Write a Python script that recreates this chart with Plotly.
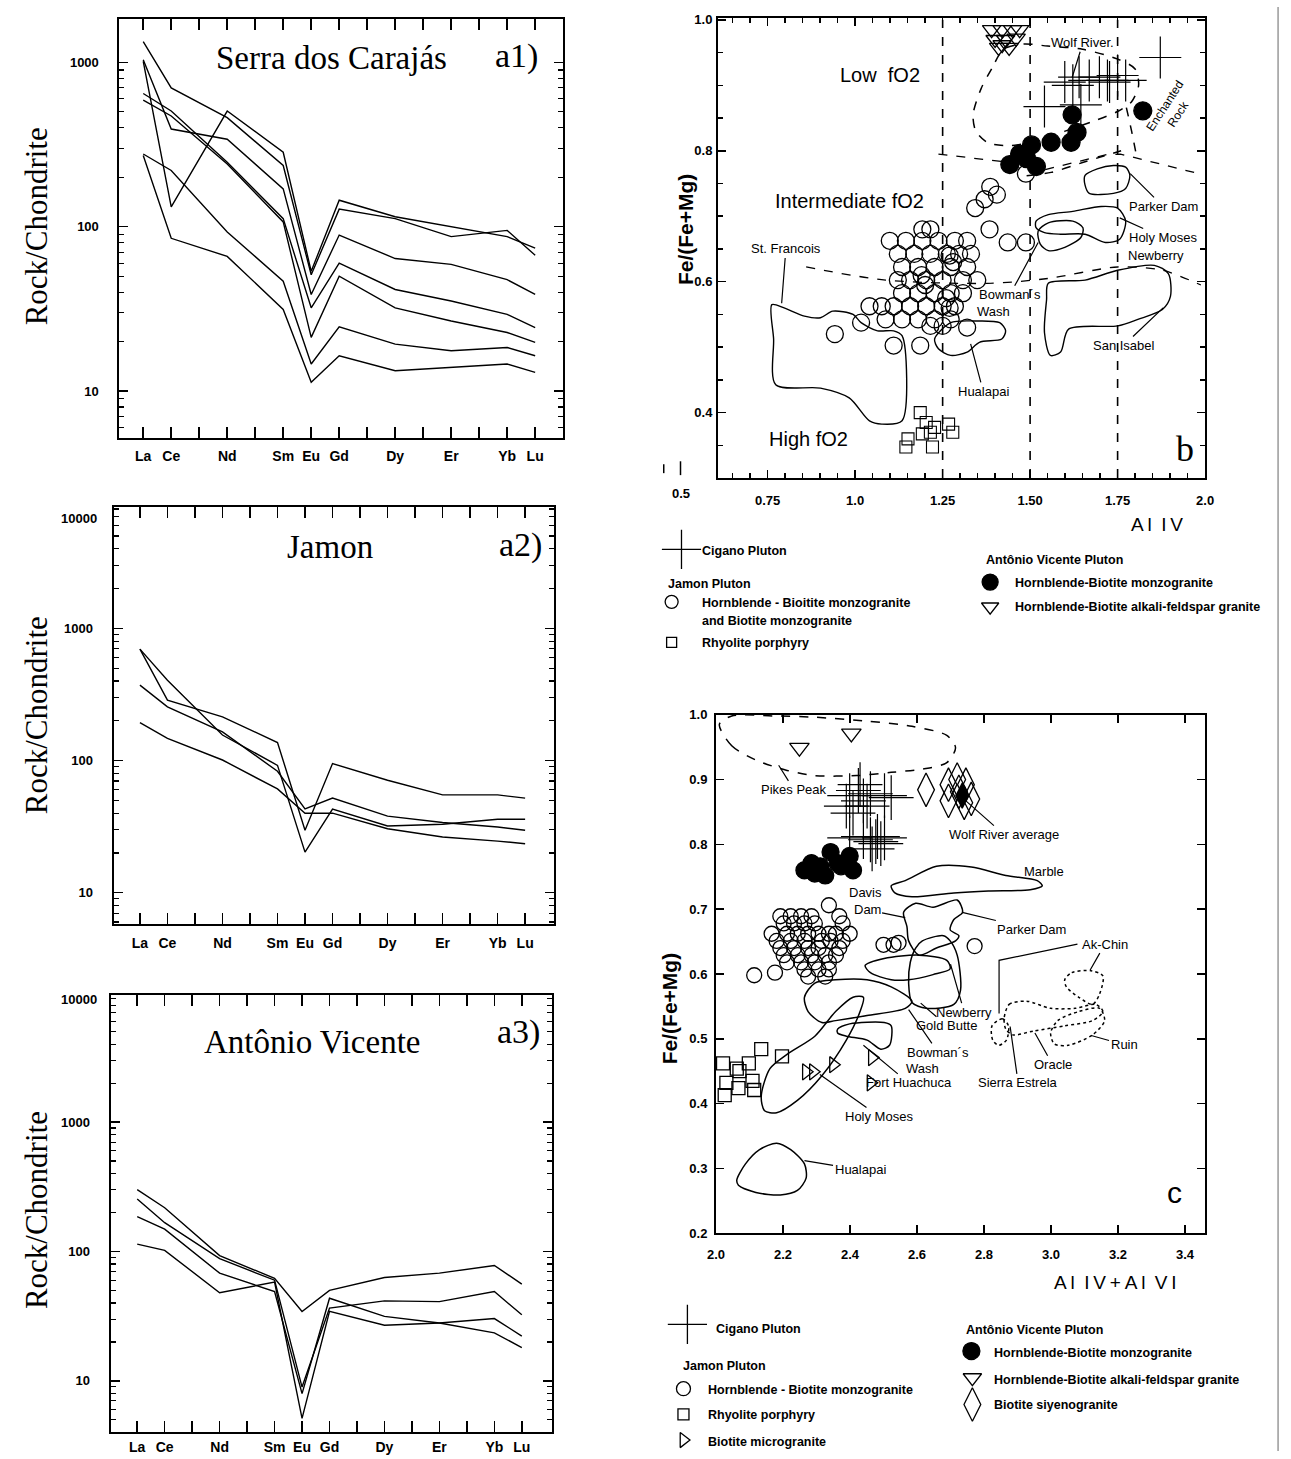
import plotly.graph_objects as go

W, H = 1291, 1459
SANS = "Liberation Sans, Arial, sans-serif"
SERIF = "Liberation Serif, Times New Roman, serif"
BLACK = "black"

# ---------------- REE spider diagrams (a1, a2, a3) ----------------
REE_LABELS = ["La", "Ce", "Nd", "Sm", "Eu", "Gd", "Dy", "Er", "Yb", "Lu"]
REE_Z = [57, 58, 60, 62, 63, 64, 66, 68, 70, 71]
REE_TICK_Z = list(range(57, 72))

A1_S1 = [1014, 132, 506, 284, 53.5, 145, 115, 100, 87, 74]
A1_S2 = [1340, 700, 461, 236, 51, 128, 112, 87, 95, 67]
A1_S3 = [1038, 393, 341, 170, 38.7, 89, 64, 59, 47.6, 38.7]
A1_S4 = [647, 506, 247, 112, 32.1, 60, 41.5, 35.3, 29.3, 24.3]
A1_S5 = [590, 472, 241, 107, 21.2, 50, 32.1, 26.7, 22.7, 19.8]
A1_S6 = [277, 220, 93, 46.6, 14.6, 24.6, 19.3, 17.6, 18.4, 16.4]
A1_S7 = [271, 85, 66, 31.4, 11.3, 16.4, 13.3, 14.0, 14.6, 13.0]

A2_S1 = [697, 287, 214, 137, 29.7, 95, 71, 55, 55, 52]
A2_S2 = [697, 406, 156, 92, 20.3, 43, 32, 33, 36, 36]
A2_S3 = [372, 255, 165, 83, 43, 52, 38, 34, 31.4, 29.7]
A2_S4 = [194, 147, 101, 61, 40, 40, 30.5, 26.4, 24.6, 23.5]

A3_S1 = [301, 218, 93, 62, 34.4, 50, 63, 68, 78, 56]
A3_S2 = [255, 167, 88, 60, 8.95, 36.5, 41.5, 41, 49, 32.4]
A3_S3 = [186, 149, 68, 49, 7.96, 43.5, 31.5, 28, 23.5, 18.1]
A3_S4 = [114, 102, 48, 58, 5.13, 34.4, 26.9, 28, 30.3, 22.2]

# ---------------- Panel b : Fe/(Fe+Mg) vs Al IV ----------------
B_CIGANO_X = [1.872, 1.599, 1.640, 1.669, 1.698, 1.721, 1.750, 1.773, 1.622, 1.541, 1.645, 1.727]
B_CIGANO_Y = [0.9425, 0.905, 0.9125, 0.9075, 0.9125, 0.9075, 0.915, 0.9075, 0.900, 0.8675, 0.870, 0.905]

B_HBM_X = [1.192, 1.215,
           1.099, 1.145, 1.192, 1.238, 1.285, 1.320,
           1.122, 1.169, 1.215, 1.262, 1.297, 1.331,
           1.134, 1.180, 1.227, 1.273, 1.320,
           1.122, 1.157, 1.203, 1.250, 1.308, 1.349,
           1.134, 1.180, 1.227, 1.273, 1.308,
           1.041, 1.076, 1.110, 1.157, 1.203, 1.250, 1.285,
           1.087, 1.134, 1.180, 1.227, 1.273,
           1.215, 1.250,
           1.190, 1.200, 1.270, 1.280, 1.260, 1.270,
           1.488, 1.386, 1.405, 1.370, 1.343, 1.384, 1.436, 1.488,
           0.942, 1.110, 1.186, 1.320, 1.017]
B_HBM_Y = [0.680, 0.680,
           0.6625, 0.6625, 0.6625, 0.6625, 0.6625, 0.6625,
           0.6425, 0.6425, 0.6425, 0.6425, 0.6425, 0.6425,
           0.6225, 0.6225, 0.6225, 0.6225, 0.6225,
           0.6025, 0.6025, 0.6025, 0.6025, 0.6025, 0.6025,
           0.5825, 0.5825, 0.5825, 0.5825, 0.5825,
           0.5625, 0.5625, 0.5625, 0.5625, 0.5625, 0.5625, 0.5625,
           0.5425, 0.5425, 0.5425, 0.5425, 0.5425,
           0.5325, 0.5325,
           0.610, 0.595, 0.640, 0.630, 0.575, 0.560,
           0.765, 0.745, 0.733, 0.726, 0.7125, 0.680, 0.660, 0.660,
           0.520, 0.5025, 0.5025, 0.530, 0.5375]

B_RHY_X = [1.186, 1.203, 1.227, 1.267, 1.279, 1.151, 1.145, 1.221, 1.192, 1.215]
B_RHY_Y = [0.400, 0.385, 0.3775, 0.3825, 0.370, 0.360, 0.3475, 0.3475, 0.3675, 0.370]

B_AVM_X = [1.620, 1.822, 1.634, 1.617, 1.560, 1.504, 1.470, 1.442, 1.518, 1.490]
B_AVM_Y = [0.855, 0.861, 0.828, 0.813, 0.813, 0.809, 0.795, 0.779, 0.776, 0.788]

B_AVA_X = [1.39, 1.42, 1.45, 1.47, 1.40, 1.43, 1.46, 1.41, 1.44, 1.42]
B_AVA_Y = [0.985, 0.985, 0.985, 0.985, 0.970, 0.970, 0.972, 0.958, 0.958, 0.962]

# fields (solid outlines) in panel b
B_STF_X = [0.762, 0.797, 0.855, 0.901, 0.936, 0.994, 1.017, 1.064, 1.110, 1.134, 1.134, 1.076, 1.041, 0.983, 0.901, 0.773, 0.767]
B_STF_Y = [0.565, 0.560, 0.5475, 0.545, 0.555, 0.550, 0.5375, 0.525, 0.525, 0.5175, 0.3875, 0.3825, 0.3875, 0.4225, 0.4375, 0.4425, 0.5125]
B_HUA_X = [1.227, 1.273, 1.343, 1.413, 1.430, 1.419, 1.355, 1.320, 1.273, 1.238]
B_HUA_Y = [0.5125, 0.5375, 0.540, 0.5375, 0.525, 0.5125, 0.5075, 0.4925, 0.4875, 0.4975]
B_BOW_X = [1.523, 1.552, 1.622, 1.651, 1.645, 1.599, 1.552, 1.529]
B_BOW_Y = [0.6775, 0.690, 0.6925, 0.6825, 0.6675, 0.6525, 0.6475, 0.6575]
B_HMN_X = [1.517, 1.552, 1.622, 1.703, 1.750, 1.773, 1.756, 1.715, 1.657, 1.587, 1.541, 1.517]
B_HMN_Y = [0.6925, 0.7025, 0.7075, 0.715, 0.7125, 0.6925, 0.665, 0.660, 0.6725, 0.6725, 0.675, 0.6825]
B_PKD_X = [1.657, 1.692, 1.738, 1.773, 1.785, 1.773, 1.738, 1.669, 1.657]
B_PKD_Y = [0.7625, 0.7725, 0.7775, 0.775, 0.7625, 0.7425, 0.735, 0.735, 0.7475]
B_SIS_X = [1.552, 1.657, 1.750, 1.855, 1.895, 1.901, 1.878, 1.808, 1.750, 1.610, 1.587, 1.558, 1.541, 1.547]
B_SIS_Y = [0.5975, 0.6025, 0.6175, 0.625, 0.6125, 0.5775, 0.5575, 0.5425, 0.5325, 0.5275, 0.4925, 0.4875, 0.5225, 0.5725]

# dashed outlines / boundaries in panel b
B_WOLF_X = [1.424, 1.390, 1.360, 1.337, 1.345, 1.380, 1.440, 1.520, 1.600, 1.680, 1.750, 1.790, 1.810, 1.800, 1.750, 1.650, 1.550, 1.480]
B_WOLF_Y = [0.955, 0.925, 0.895, 0.855, 0.830, 0.812, 0.808, 0.815, 0.830, 0.845, 0.860, 0.875, 0.900, 0.925, 0.940, 0.955, 0.960, 0.963]
B_ENCH_LOW_X = [1.49, 1.56, 1.65, 1.76]
B_ENCH_LOW_Y = [0.762, 0.767, 0.782, 0.800]
B_ENCH_RIGHT_X = [1.775, 1.790, 1.803]
B_ENCH_RIGHT_Y = [0.866, 0.830, 0.795]
B_UPPER_X = [1.238, 1.428, 1.541, 1.718, 1.758, 1.983]
B_UPPER_Y = [0.795, 0.783, 0.771, 0.794, 0.795, 0.765]
B_LOWER_X = [0.860, 1.087, 1.378, 1.552, 1.750, 1.878, 1.988]
B_LOWER_Y = [0.6225, 0.6025, 0.5975, 0.605, 0.6225, 0.6175, 0.595]
B_VLINES = [1.25, 1.50, 1.75]

# ---------------- Panel c : Fe/(Fe+Mg) vs Al IV + Al VI ----------------
C_CIGANO_X = [2.399, 2.425, 2.440, 2.461, 2.503, 2.523, 2.389, 2.409, 2.451, 2.430,
              2.399, 2.440, 2.461, 2.477, 2.492, 2.503, 2.466, 2.482]
C_CIGANO_Y = [0.875, 0.883, 0.867, 0.878, 0.875, 0.872, 0.859, 0.848, 0.859, 0.892,
              0.810, 0.812, 0.807, 0.804, 0.801, 0.810, 0.793, 0.812]

C_HBM_X = [2.337,
           2.192, 2.223, 2.254, 2.285, 2.368,
           2.202, 2.233, 2.264, 2.295, 2.378,
           2.166, 2.212, 2.244, 2.275, 2.306, 2.337, 2.358, 2.399,
           2.181, 2.223, 2.264, 2.316, 2.342, 2.378,
           2.192, 2.233, 2.275, 2.306, 2.368,
           2.202, 2.244, 2.285, 2.326, 2.358,
           2.212, 2.254, 2.295, 2.337,
           2.264, 2.306, 2.337,
           2.275, 2.326,
           2.114, 2.176, 2.500, 2.530, 2.545, 2.772]
C_HBM_Y = [0.706,
           0.689, 0.689, 0.689, 0.689, 0.689,
           0.678, 0.678, 0.678, 0.678, 0.678,
           0.662, 0.662, 0.662, 0.662, 0.662, 0.662, 0.662, 0.662,
           0.651, 0.651, 0.651, 0.651, 0.651, 0.651,
           0.640, 0.640, 0.640, 0.640, 0.640,
           0.629, 0.629, 0.629, 0.629, 0.629,
           0.618, 0.618, 0.618, 0.618,
           0.607, 0.607, 0.607,
           0.596, 0.596,
           0.598, 0.602, 0.645, 0.645, 0.648, 0.643]

C_RHY_X = [2.021, 2.062, 2.098, 2.135, 2.197, 2.031, 2.067, 2.109, 2.114, 2.026, 2.070]
C_RHY_Y = [0.462, 0.454, 0.462, 0.484, 0.473, 0.432, 0.424, 0.435, 0.421, 0.413, 0.450]

C_MICRO_X = [2.269, 2.290, 2.350, 2.466, 2.462]
C_MICRO_Y = [0.449, 0.449, 0.460, 0.471, 0.432]

C_AVM_X = [2.285, 2.311, 2.342, 2.295, 2.326, 2.363, 2.399, 2.409, 2.373, 2.264]
C_AVM_Y = [0.771, 0.766, 0.788, 0.755, 0.752, 0.771, 0.782, 0.760, 0.766, 0.760]

C_AVA_X = [2.249, 2.404]
C_AVA_Y = [0.949, 0.971]

C_SYE_X = [2.627, 2.694, 2.720, 2.746, 2.725, 2.694, 2.762, 2.741]
C_SYE_Y = [0.884, 0.892, 0.900, 0.892, 0.881, 0.867, 0.870, 0.864]
C_WOLF_AVG_X = [2.735]
C_WOLF_AVG_Y = [0.875]

C_PIKES_X = [2.010, 2.047, 2.119, 2.212, 2.295, 2.420, 2.523, 2.617, 2.689, 2.715, 2.689, 2.585, 2.451, 2.295, 2.171, 2.047]
C_PIKES_Y = [0.985, 0.952, 0.930, 0.914, 0.906, 0.906, 0.911, 0.916, 0.926, 0.949, 0.968, 0.982, 0.990, 0.996, 0.998, 0.998]
C_MARBLE_X = [2.523, 2.565, 2.658, 2.762, 2.865, 2.959, 2.974, 2.938, 2.813, 2.710, 2.585, 2.534]
C_MARBLE_Y = [0.736, 0.744, 0.766, 0.765, 0.752, 0.744, 0.736, 0.730, 0.728, 0.725, 0.719, 0.725]
C_PARKER_X = [2.560, 2.596, 2.648, 2.720, 2.736, 2.710, 2.699, 2.725, 2.715, 2.658, 2.606, 2.575, 2.570]
C_PARKER_Y = [0.695, 0.709, 0.703, 0.714, 0.695, 0.684, 0.668, 0.659, 0.651, 0.640, 0.629, 0.651, 0.673]
C_NEWB_X = [2.596, 2.616, 2.679, 2.699, 2.720, 2.730, 2.710, 2.627, 2.585, 2.575, 2.580]
C_NEWB_Y = [0.640, 0.651, 0.659, 0.651, 0.629, 0.575, 0.553, 0.547, 0.556, 0.586, 0.618]
C_GOLD_X = [2.445, 2.502, 2.606, 2.689, 2.699, 2.648, 2.575, 2.523, 2.461]
C_GOLD_Y = [0.613, 0.624, 0.629, 0.621, 0.608, 0.599, 0.591, 0.591, 0.602]
C_BOW_X = [2.264, 2.295, 2.357, 2.451, 2.523, 2.585, 2.565, 2.451, 2.357, 2.316, 2.275]
C_BOW_Y = [0.564, 0.586, 0.591, 0.591, 0.580, 0.558, 0.547, 0.536, 0.528, 0.525, 0.542]
C_HOLY_X = [2.135, 2.161, 2.212, 2.295, 2.357, 2.409, 2.440, 2.430, 2.389, 2.316, 2.243, 2.181, 2.145]
C_HOLY_Y = [0.411, 0.454, 0.476, 0.504, 0.542, 0.564, 0.564, 0.542, 0.498, 0.443, 0.405, 0.386, 0.389]
C_FORT_X = [2.363, 2.399, 2.502, 2.523, 2.518, 2.492, 2.451, 2.389, 2.363]
C_FORT_Y = [0.515, 0.523, 0.525, 0.520, 0.490, 0.484, 0.498, 0.504, 0.509]
C_HUAL_X = [2.062, 2.088, 2.130, 2.181, 2.223, 2.264, 2.269, 2.243, 2.192, 2.119, 2.067]
C_HUAL_Y = [0.282, 0.307, 0.329, 0.339, 0.329, 0.307, 0.285, 0.266, 0.259, 0.263, 0.274]
C_AKCHIN_X = [3.041, 3.062, 3.119, 3.155, 3.145, 3.124, 3.083, 3.046]
C_AKCHIN_Y = [0.591, 0.602, 0.605, 0.597, 0.569, 0.553, 0.564, 0.580]
C_SIERRA_X = [2.824, 2.855, 2.873, 2.867, 2.844, 2.826]
C_SIERRA_Y = [0.520, 0.531, 0.520, 0.498, 0.490, 0.498]
C_ORACLE_X = [2.860, 2.875, 2.927, 2.999, 3.072, 3.134, 3.155, 3.124, 3.041, 2.948, 2.886, 2.865]
C_ORACLE_Y = [0.531, 0.553, 0.558, 0.547, 0.547, 0.553, 0.542, 0.528, 0.520, 0.512, 0.506, 0.515]
C_RUIN_X = [2.999, 3.020, 3.083, 3.145, 3.160, 3.124, 3.052, 3.010]
C_RUIN_Y = [0.509, 0.528, 0.542, 0.547, 0.528, 0.506, 0.490, 0.492]
C_AK_BRACKET_X = [3.079, 2.845, 2.845]
C_AK_BRACKET_Y = [0.646, 0.621, 0.539]

# ---------------- page layout (pixels) ----------------
A1_BOX = (112, 12, 562, 435)
A2_BOX = (106, 505, 553, 927)
A3_BOX = (103, 998, 551, 1440)
B_BOX = (719, 11, 1213, 476)
C_BOX = (717, 715, 1213, 1239)


def dx(box):
    return [box[0] / W, box[2] / W]


def dy(box):
    return [1 - box[3] / H, 1 - box[1] / H]


def closed(xs, ys):
    return xs + xs[:1], ys + ys[:1]


fig = go.Figure()


def base_axis(fs=14):
    return dict(showline=True, linecolor=BLACK, linewidth=2, mirror="allticks",
                ticks="inside", tickcolor=BLACK, tickwidth=1.5, showgrid=False,
                zeroline=False,
                tickfont=dict(family=SANS, size=fs, color=BLACK, weight="bold"))


layout_axes = {}
ree_panels = [
    (1, A1_BOX, [56.15, 72.0], [0.717, 3.265], [A1_S1, A1_S2, A1_S3, A1_S4, A1_S5, A1_S6, A1_S7], 5),
    (2, A2_BOX, [56.04, 72.06], [0.76, 3.92], [A2_S1, A2_S2, A2_S3, A2_S4], 5),
    (3, A3_BOX, [56.03, 72.11], [0.603, 3.985], [A3_S1, A3_S2, A3_S3, A3_S4], 1),
]
ree_ticktext = [REE_LABELS[REE_Z.index(z)] if z in REE_Z else "" for z in REE_TICK_Z]
minor_log = [k * 10 ** e for e in range(0, 4) for k in range(2, 10)]

for n, box, xr, yr, samples, xstand in ree_panels:
    sx = "" if n == 1 else str(n)
    for s in samples:
        fig.add_trace(go.Scatter(x=REE_Z, y=s, mode="lines", xaxis="x" + sx, yaxis="y" + sx,
                                 line=dict(color=BLACK, width=1.4), showlegend=False,
                                 hoverinfo="skip"))
    xa = base_axis(14)
    xa.update(domain=dx(box), range=xr, anchor="y" + sx, tickmode="array",
              tickvals=REE_TICK_Z, ticktext=ree_ticktext, ticklen=11, ticklabelstandoff=xstand)
    ya = base_axis(13)
    ya.update(domain=dy(box), type="log", range=yr, anchor="x" + sx, tickmode="array",
              tickvals=[10, 100, 1000], ticktext=["10", "100", "1000"], ticklen=9,
              ticklabelstandoff=16,
              minor=dict(tickmode="array", tickvals=minor_log, ticks="inside", ticklen=5,
                         tickcolor=BLACK, tickwidth=1.2))
    layout_axes["xaxis" + sx] = xa
    layout_axes["yaxis" + sx] = ya

# ---------------- panel b traces ----------------
XB, YB = "x4", "y4"


def field(xs, ys, xa, ya, dash="solid", width=1.4, close=True, smooth=True):
    if close:
        xs, ys = closed(xs, ys)
    fig.add_trace(go.Scatter(x=xs, y=ys, mode="lines", xaxis=xa, yaxis=ya,
                             line=dict(color=BLACK, width=width, dash=dash,
                                       shape="spline" if smooth else "linear", smoothing=0.8),
                             showlegend=False, hoverinfo="skip"))


for v in B_VLINES:
    fig.add_trace(go.Scatter(x=[v, v], y=[0.30, 1.0], mode="lines", xaxis=XB, yaxis=YB,
                             line=dict(color=BLACK, width=1.6, dash="dash"),
                             showlegend=False, hoverinfo="skip"))
field(B_UPPER_X, B_UPPER_Y, XB, YB, dash="dash", width=1.3, close=False, smooth=False)
field(B_LOWER_X, B_LOWER_Y, XB, YB, dash="dash", width=1.3, close=False)
field(B_WOLF_X, B_WOLF_Y, XB, YB, dash="dash", width=1.5)
field(B_ENCH_LOW_X, B_ENCH_LOW_Y, XB, YB, dash="dash", width=1.5, close=False)
field(B_ENCH_RIGHT_X, B_ENCH_RIGHT_Y, XB, YB, dash="dash", width=1.5, close=False)
for fx, fy in [(B_STF_X, B_STF_Y), (B_HUA_X, B_HUA_Y), (B_BOW_X, B_BOW_Y),
               (B_HMN_X, B_HMN_Y), (B_PKD_X, B_PKD_Y), (B_SIS_X, B_SIS_Y)]:
    field(fx, fy, XB, YB)


def pts(xs, ys, xa, ya, symbol, size, fill=False, color=BLACK, lw=1.3):
    fig.add_trace(go.Scatter(x=xs, y=ys, mode="markers", xaxis=xa, yaxis=ya,
                             marker=dict(symbol=symbol, size=size,
                                         color=color if fill else BLACK,
                                         line=dict(color=color, width=lw)),
                             showlegend=False, hoverinfo="skip", cliponaxis=False))


pts(B_HBM_X, B_HBM_Y, XB, YB, "circle-open", 17)
pts(B_RHY_X, B_RHY_Y, XB, YB, "square-open", 12, color="#555555", lw=1.1)
pts(B_AVM_X, B_AVM_Y, XB, YB, "circle", 18, fill=True)
pts(B_AVA_X, B_AVA_Y, XB, YB, "triangle-down-open", 16)
pts(B_CIGANO_X, B_CIGANO_Y, XB, YB, "cross-thin", 30, lw=1.2)

xa = base_axis(13)
xa.update(domain=dx(B_BOX), range=[0.608, 2.0], anchor=YB, tickmode="array",
          tickvals=[0.75, 1.0, 1.25, 1.5, 1.75, 2.0],
          ticktext=["0.75", "1.0", "1.25", "1.50", "1.75", "2.0"], ticklen=8,
          ticklabelstandoff=9,
          minor=dict(dtick=0.05, tick0=0.5, ticks="inside", ticklen=5, tickcolor=BLACK))
ya = base_axis(13)
ya.update(domain=dy(B_BOX), range=[0.30, 1.003], anchor=XB, tickmode="array",
          tickvals=[0.4, 0.6, 0.8, 1.0], ticktext=["0.4", "0.6", "0.8", "1.0"], ticklen=8,
          ticklabelstandoff=1,
          minor=dict(dtick=0.05, tick0=0.3, ticks="inside", ticklen=5, tickcolor=BLACK))
layout_axes["xaxis4"] = xa
layout_axes["yaxis4"] = ya

# ---------------- panel c traces ----------------
XC, YC = "x5", "y5"
field(C_PIKES_X, C_PIKES_Y, XC, YC, dash="dash", width=1.5)
for fx, fy in [(C_MARBLE_X, C_MARBLE_Y), (C_PARKER_X, C_PARKER_Y), (C_NEWB_X, C_NEWB_Y),
               (C_GOLD_X, C_GOLD_Y), (C_BOW_X, C_BOW_Y), (C_HOLY_X, C_HOLY_Y),
               (C_FORT_X, C_FORT_Y), (C_HUAL_X, C_HUAL_Y)]:
    field(fx, fy, XC, YC, width=1.5)
for fx, fy in [(C_AKCHIN_X, C_AKCHIN_Y), (C_SIERRA_X, C_SIERRA_Y), (C_ORACLE_X, C_ORACLE_Y),
               (C_RUIN_X, C_RUIN_Y)]:
    field(fx, fy, XC, YC, dash="dot", width=1.5)
field(C_AK_BRACKET_X, C_AK_BRACKET_Y, XC, YC, width=1.2, close=False, smooth=False)

pts(C_HBM_X, C_HBM_Y, XC, YC, "circle-open", 15)
pts(C_RHY_X, C_RHY_Y, XC, YC, "square-open", 13)
pts(C_MICRO_X, C_MICRO_Y, XC, YC, "triangle-right-open", 14)
pts(C_AVM_X, C_AVM_Y, XC, YC, "circle", 17, fill=True)
pts(C_AVA_X, C_AVA_Y, XC, YC, "triangle-down-open", 17)
pts(C_SYE_X, C_SYE_Y, XC, YC, "diamond-tall-open", 24)
pts(C_WOLF_AVG_X, C_WOLF_AVG_Y, XC, YC, "diamond-tall", 18, fill=True)
pts(C_CIGANO_X, C_CIGANO_Y, XC, YC, "cross-thin", 32, lw=1.2)

xa = base_axis(13)
xa.update(domain=dx(C_BOX), range=[2.0, 3.46], anchor=YC, tickmode="array",
          tickvals=[2.0, 2.2, 2.4, 2.6, 2.8, 3.0, 3.2, 3.4],
          ticktext=["2.0", "2.2", "2.4", "2.6", "2.8", "3.0", "3.2", "3.4"], ticklen=8,
          ticklabelstandoff=8)
ya = base_axis(13)
ya.update(domain=dy(C_BOX), range=[0.2, 1.0], anchor=XC, tickmode="array",
          tickvals=[0.2, 0.3, 0.4, 0.5, 0.6, 0.7, 0.8, 0.9, 1.0],
          ticktext=["0.2", "0.3", "0.4", "0.5", "0.6", "0.7", "0.8", "0.9", "1.0"], ticklen=8,
          ticklabelstandoff=4)
layout_axes["xaxis5"] = xa
layout_axes["yaxis5"] = ya

# ---------------- legend symbols (overlay page axis in pixels) ----------------
XL, YL = "x6", "y6"
LEG_SYMBOLS = [
    ("cross-thin", 682, 548, 28, False, BLACK),
    ("circle-open", 672, 601, 13, False, BLACK),
    ("square-open", 672, 642, 10, False, "#555555"),
    ("circle", 995, 581, 16, True, BLACK),
    ("triangle-down-open", 995, 606, 15, False, BLACK),
    ("cross-thin", 688, 1331, 28, False, BLACK),
    ("circle-open", 684, 1396, 14, False, BLACK),
    ("square-open", 684, 1422, 11, False, "#555555"),
    ("triangle-right-open", 684, 1448, 13, False, BLACK),
    ("circle", 976, 1358, 17, True, BLACK),
    ("triangle-down-open", 977, 1385, 16, False, BLACK),
    ("diamond-tall-open", 977, 1412, 24, False, BLACK),
]
for sym, lx, ly, sz, fill, col in LEG_SYMBOLS:
    pts([lx], [ly], XL, YL, sym, sz, fill=fill, color=col, lw=1.3)
layout_axes["xaxis6"] = dict(domain=[0, 1], range=[0, W], visible=False, anchor=YL)
layout_axes["yaxis6"] = dict(domain=[0, 1], range=[H, 0], visible=False, anchor=XL)

# ---------------- annotations ----------------
ann = []


def ptext(text, px, py, size, family=SANS, xanchor="center", yanchor="middle", angle=0,
          weight="normal"):
    ann.append(dict(text=text, x=px / W, y=1 - py / H, xref="paper", yref="paper",
                    showarrow=False, xanchor=xanchor, yanchor=yanchor, textangle=angle,
                    font=dict(family=family, size=size, color=BLACK, weight=weight)))


# REE titles
ptext("Serra dos Carajás", 327, 52, 33, SERIF)
ptext("a1)", 515, 50, 34, SERIF)
ptext("Jamon", 326, 546, 33, SERIF)
ptext("a2)", 519, 544, 34, SERIF)
ptext("Antônio Vicente", 307, 1046, 33, SERIF)
ptext("a3)", 517, 1036, 34, SERIF)
for yc in (222, 716, 1216):
    ptext("Rock/Chondrite", 28, yc, 31, SERIF, angle=-90)
ptext("10000", 91, 517, 13, xanchor="right", weight="bold")
ptext("10000", 91, 1003, 13, xanchor="right", weight="bold")

# axis titles for b and c
ptext("Fe/(Fe+Mg)", 686, 225, 21, angle=-90, weight="bold")
ptext("Fe/(Fe+Mg)", 670, 1012, 21, angle=-90, weight="bold")
ptext("A\u2009l\u2002I\u2009V", 1164, 523, 19)
ptext("A\u2009l\u2002I\u2009V\u2009+\u2009A\u2009l\u2002V\u2009I", 1122, 1289, 19)
ptext("0.5", 681, 492, 13, weight="bold")

# legend texts b
LEG_B = [
    ("Cigano Pluton", 701, 550), ("Jamon Pluton", 666, 583),
    ("Hornblende - Bioitite monzogranite", 701, 602), ("and Biotite monzogranite", 701, 620),
    ("Rhyolite porphyry", 701, 643), ("Antônio Vicente Pluton", 989, 559),
    ("Hornblende-Biotite monzogranite", 1018, 582),
    ("Hornblende-Biotite alkali-feldspar granite", 1018, 606),
]
LEG_C = [
    ("Cigano Pluton", 715, 1336), ("Jamon Pluton", 681, 1373),
    ("Hornblende - Biotite monzogranite", 707, 1397), ("Rhyolite porphyry", 707, 1423),
    ("Biotite microgranite", 707, 1450), ("Antônio Vicente Pluton", 969, 1337),
    ("Hornblende-Biotite monzogranite", 997, 1360),
    ("Hornblende-Biotite alkali-feldspar granite", 997, 1387),
    ("Biotite siyenogranite", 997, 1413),
]
for t, lx, ly in LEG_B + LEG_C:
    ptext(t, lx, ly, 12.5, xanchor="left", weight="bold")


def dtext(text, x, y, xa, ya, size=14, family=SANS, angle=0, target=None, weight="normal",
          xanchor="center"):
    a = dict(text=text, xref=xa, yref=ya, textangle=angle, xanchor=xanchor,
             font=dict(family=family, size=size, color=BLACK, weight=weight))
    if target is None:
        a.update(x=x, y=y, showarrow=False)
    else:
        a.update(x=target[0], y=target[1], ax=x, ay=y, axref=xa, ayref=ya, showarrow=True,
                 arrowhead=0, arrowwidth=1.2, arrowcolor=BLACK, standoff=0)
    ann.append(a)


# panel b labels
dtext("Low  fO2", 1.072, 0.915, XB, YB, size=20)
dtext("Intermediate fO2", 0.983, 0.7235, XB, YB, size=20)
dtext("High fO2", 0.866, 0.360, XB, YB, size=20)
dtext("St. Francois", 0.802, 0.650, XB, YB, size=13, target=(0.790, 0.567))
dtext("Wolf River.", 1.651, 0.965, XB, YB, size=13, target=(1.620, 0.912))
dtext("Enchanted<br>Rock", 1.905, 0.862, XB, YB, size=12, angle=-57)
dtext("Parker Dam", 1.880, 0.715, XB, YB, size=13, target=(1.786, 0.765))
dtext("Holy Moses", 1.880, 0.6675, XB, YB, size=13, target=(1.756, 0.6975))
dtext("Newberry", 1.860, 0.640, XB, YB, size=13)
dtext("Bowman´s", 1.442, 0.580, XB, YB, size=13, target=(1.523, 0.660))
dtext("Wash", 1.395, 0.555, XB, YB, size=13)
dtext("Hualapai", 1.366, 0.4325, XB, YB, size=13, target=(1.330, 0.505))
dtext("San Isabel", 1.767, 0.5025, XB, YB, size=13, target=(1.880, 0.560))
dtext("b", 1.942, 0.345, XB, YB, size=36, family=SERIF)

# panel c labels
dtext("Pikes Peak", 2.233, 0.884, XC, YC, size=13, target=(2.187, 0.922))
dtext("Wolf River average", 2.860, 0.815, XC, YC, size=13, target=(2.735, 0.872))
dtext("Marble", 2.979, 0.758, XC, YC, size=13)
dtext("Davis", 2.446, 0.725, XC, YC, size=13)
dtext("Dam", 2.451, 0.699, XC, YC, size=13, target=(2.565, 0.687))
dtext("Parker Dam", 2.943, 0.669, XC, YC, size=13, target=(2.735, 0.695))
dtext("Ak-Chin", 3.161, 0.646, XC, YC, size=13, target=(3.117, 0.606))
dtext("Newberry", 2.741, 0.541, XC, YC, size=13, target=(2.700, 0.615))
dtext("Gold Butte", 2.689, 0.520, XC, YC, size=13, target=(2.611, 0.555))
dtext("Bowman´s", 2.663, 0.479, XC, YC, size=13, target=(2.575, 0.545))
dtext("Wash", 2.617, 0.454, XC, YC, size=13)
dtext("Fort Huachuca", 2.575, 0.432, XC, YC, size=13, target=(2.440, 0.490))
dtext("Sierra Estrela", 2.902, 0.432, XC, YC, size=13, target=(2.878, 0.519))
dtext("Oracle", 3.005, 0.460, XC, YC, size=13, target=(2.952, 0.509))
dtext("Ruin", 3.218, 0.491, XC, YC, size=13, target=(3.120, 0.505))
dtext("Holy Moses", 2.487, 0.380, XC, YC, size=13, target=(2.310, 0.445))
dtext("Hualapai", 2.430, 0.298, XC, YC, size=13, target=(2.264, 0.312))
dtext("c", 3.368, 0.263, XC, YC, size=30)

shapes = [
    dict(type="line", xref="paper", yref="paper", x0=664 / W, x1=664 / W,
         y0=1 - 471 / H, y1=1 - 462 / H, line=dict(color=BLACK, width=1.5)),
    dict(type="line", xref="paper", yref="paper", x0=681 / W, x1=681 / W,
         y0=1 - 473 / H, y1=1 - 459 / H, line=dict(color=BLACK, width=1.5)),
    dict(type="line", xref="paper", yref="paper", x0=1287 / W, x1=1287 / W,
         y0=0, y1=1, line=dict(color="#666666", width=1)),
]

fig.update_layout(
    width=W, height=H, margin=dict(l=0, r=0, t=0, b=0),
    paper_bgcolor="white", plot_bgcolor="rgba(0,0,0,0)",
    showlegend=False, annotations=ann, shapes=shapes,
    font=dict(family=SANS, color=BLACK),
    **layout_axes,
)

fig.write_html("out.html",
               config={"displayModeBar": False, "staticPlot": True},
               post_script="document.body.style.margin='0px';"
                           "document.body.style.overflow='hidden';")
